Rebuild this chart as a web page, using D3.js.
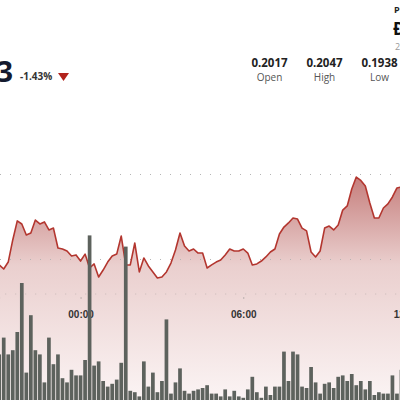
<!DOCTYPE html>
<meta charset="utf-8">
<style>
body { margin: 0; background: #fff; }
svg { display: block; font-family: "Open Sans", sans-serif; }
.grid line { stroke: #b5b5b5; stroke-width: 1; stroke-dasharray: 1,9; }
.axis path { stroke: #c9b9b9; stroke-dasharray: 1,9; }
.axis line { stroke: #888; stroke-dasharray: 0,4,1; }
.axis text { font-size: 10px; font-weight: bold; fill: #333; }
</style>
<svg width="400" height="400"></svg>
<script src="https://cdnjs.cloudflare.com/ajax/libs/d3/7.8.5/d3.min.js"></script>
<script>

// 10-minute points starting 21:00 the day before
var startTime = "2024-01-14T21:00:00Z";
var stepMinutes = 10;

var prices = [0.19965, 0.19941, 0.19982, 0.20112, 0.20224, 0.20206, 0.20141, 0.20153, 0.20229, 0.20206,
              0.20218, 0.20171, 0.20182, 0.20065, 0.20059, 0.20047, 0.20018, 0.20024, 0.19988, 0.20029,
              0.19947, 0.19971, 0.19894, 0.19935, 0.19982, 0.20018, 0.20029, 0.20135, 0.19965, 0.19965,
              0.20094, 0.19924, 0.20006, 0.19959, 0.19924, 0.19888, 0.19894, 0.19924, 0.19976, 0.20053,
              0.20153, 0.20076, 0.20047, 0.20059, 0.20035, 0.20035, 0.19947, 0.19965, 0.19982, 0.19994,
              0.20024, 0.20059, 0.20047, 0.20047, 0.20059, 0.20035, 0.19965, 0.19971, 0.19988, 0.20012,
              0.20041, 0.20059, 0.20147, 0.20188, 0.20212, 0.20241, 0.20235, 0.20182, 0.20165, 0.20041,
              0.20012, 0.20047, 0.20182, 0.20194, 0.20171, 0.20200, 0.20288, 0.20312, 0.20412, 0.20482,
              0.20462, 0.20429, 0.20329, 0.20241, 0.20241, 0.20300, 0.20324, 0.20365, 0.20418, 0.20424];

var volumes = [34, 46, 34, 37, 50, 85, 21, 62, 37, 34,
               14, 46, 27, 34, 17, 14, 23, 19, 19, 30,
               119, 26, 29, 15, 11, 13, 16, 28, 111, 8,
               7, 4, 29, 11, 21, 7, 15, 59, 6, 14,
               24, 8, 6, 8, 9, 10, 12, 6, 6, 4,
               9, 4, 8, 4, 3, 9, 18, 7, 3, 11,
               5, 11, 11, 36, 15, 36, 34, 11, 10, 25,
               14, 6, 13, 14, 10, 18, 19, 15, 20, 12,
               15, 9, 15, 5, 7, 6, 6, 19, 6, 23];

var gridPrices = [0.2050, 0.2000];
var axisTicks = ["2024-01-15T00:00:00Z", "2024-01-15T06:00:00Z", "2024-01-15T12:00:00Z"];

var lastPrice = "0.2043", change = "-1.43%";
var statValues = ["0.2017", "0.2047", "0.1938"];
var statLabels = ["Open", "High", "Low"];

var svg = d3.select("svg");
var t0 = new Date(startTime);
var data = prices.map(function(p, i) {
  return {t: new Date(t0.getTime() + i * stepMinutes * 60000), price: p, vol: volumes[i]};
});

var x = d3.scaleUtc()
    .domain([t0, new Date("2024-01-15T12:00:00Z")])
    .range([-0.8, 406]);
var y = d3.scaleLinear().domain([0.2000, 0.2050]).range([259, 174]);
var yVol = d3.scaleLinear().domain([0, 100]).range([402, 262]);

var defs = svg.append("defs");
var grad = defs.append("linearGradient")
    .attr("id", "fillGrad")
    .attr("gradientUnits", "userSpaceOnUse")
    .attr("x1", 0).attr("y1", 175).attr("x2", 0).attr("y2", 400);
grad.append("stop").attr("offset", "0%").attr("stop-color", "#c57d7b");
grad.append("stop").attr("offset", "40%").attr("stop-color", "#eacfce");
grad.append("stop").attr("offset", "100%").attr("stop-color", "#fbf4f4");

var area = d3.area()
    .x(function(d) { return x(d.t); })
    .y0(400)
    .y1(function(d) { return y(d.price); });
var line = d3.line()
    .x(function(d) { return x(d.t); })
    .y(function(d) { return y(d.price); });

svg.append("path").datum(data).attr("d", area).attr("fill", "url(#fillGrad)");

svg.append("g").attr("class", "grid")
  .selectAll("line").data(gridPrices).enter().append("line")
    .attr("x1", 0).attr("x2", 400)
    .attr("y1", function(d) { return y(d) + 0.5; })
    .attr("y2", function(d) { return y(d) + 0.5; });

svg.append("g")
    .attr("class", "axis")
    .attr("transform", "translate(0,293.5)")
    .call(d3.axisBottom(x)
      .tickValues(axisTicks.map(function(s) { return new Date(s); }))
      .tickFormat(d3.utcFormat("%H:%M"))
      .tickSize(5)
      .tickPadding(12));

svg.append("path").datum(data)
    .attr("d", line)
    .attr("fill", "none")
    .attr("stroke", "#b3362f")
    .attr("stroke-width", 1.6)
    .attr("stroke-linejoin", "round");

svg.append("g").selectAll("rect").data(data).enter().append("rect")
    .attr("x", function(d) { return x(d.t) - 1.85; })
    .attr("width", 3.7)
    .attr("y", function(d) { return yVol(d.vol); })
    .attr("height", function(d) { return yVol(0) - yVol(d.vol); })
    .attr("fill", "#5d625d");

// header
svg.append("text")
    .attr("x", 13).attr("y", 82)
    .attr("text-anchor", "end")
    .style("font-size", "29px").style("font-weight", "bold").style("fill", "#141a2e")
    .text(lastPrice);
svg.append("text")
    .attr("x", 20).attr("y", 80)
    .style("font-size", "10px").style("font-weight", "bold").style("fill", "#333")
    .text(change);
svg.append("path")
    .attr("d", "M58,73 L69,73 L63.5,81 Z")
    .attr("fill", "#b2231c");

var statX = d3.scalePoint().domain(statLabels).range([269.5, 379.5]);
statLabels.forEach(function(l, i) {
  svg.append("text")
      .attr("x", statX(l)).attr("y", 67)
      .attr("text-anchor", "middle")
      .style("font-size", "11.5px").style("font-weight", "bold").style("fill", "#222")
      .text(statValues[i]);
  svg.append("text")
      .attr("x", statX(l)).attr("y", 81)
      .attr("text-anchor", "middle")
      .style("font-size", "10px").style("fill", "#555")
      .text(l);
});

svg.append("text").attr("x", 394).attr("y", 13)
    .style("font-size", "9px").style("font-weight", "bold").style("fill", "#222")
    .text("Price");
svg.append("text").attr("x", 393).attr("y", 35)
    .style("font-size", "17px").style("font-weight", "bold").style("fill", "#111")
    .text("Ð");
svg.append("text").attr("x", 395).attr("y", 50)
    .style("font-size", "9px").style("fill", "#999")
    .text("24h");

</script>
